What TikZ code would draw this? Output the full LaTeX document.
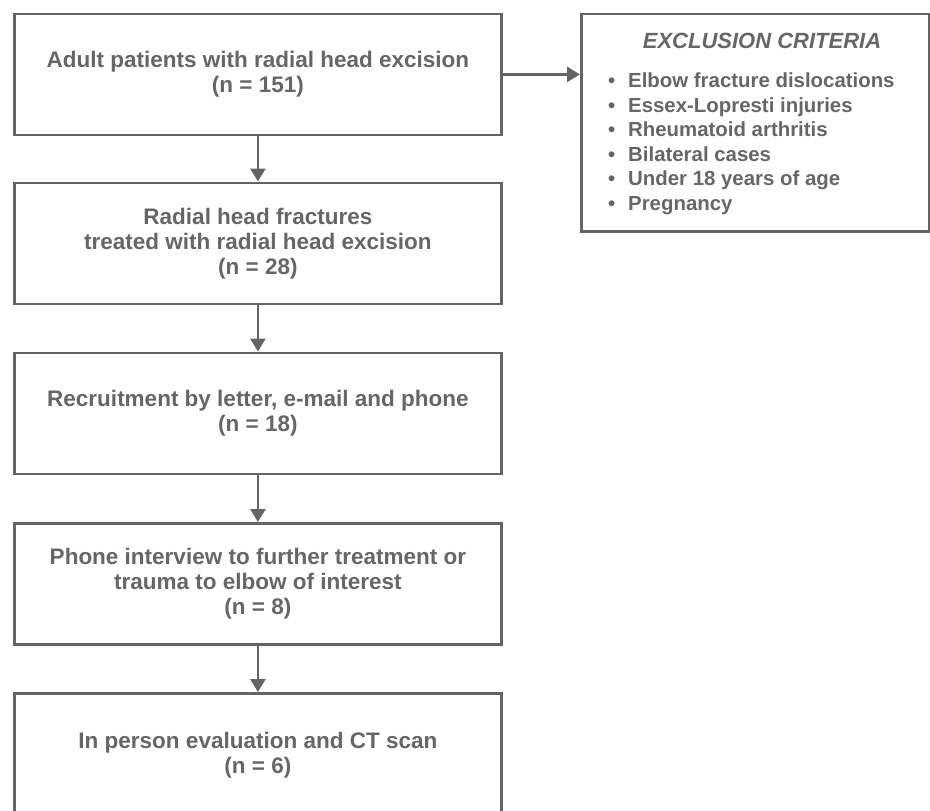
\documentclass[tikz,border=0pt]{standalone}
\usepackage{fontspec}
\setmainfont{Liberation Sans}
\usetikzlibrary{arrows.meta}
\definecolor{ink}{HTML}{666666}
\definecolor{edge}{HTML}{646464}
\begin{document}
\begin{tikzpicture}[x=1pt,y=-1pt,
  flowbox/.style={draw=edge, line width=2.8pt, minimum width=487pt, minimum height=121pt,
    inner sep=0pt, align=center, text=ink, font=\fontsize{22.5}{25}\selectfont\bfseries, anchor=north west},
  flowarrow/.style={draw=edge, line width=2.8pt, -{Triangle[width=15pt,length=13pt]}}]
\useasboundingbox (0,0) rectangle (930,811);
\clip (0,0) rectangle (930,811);
\node[flowbox] (b1) at (13,12.5) {Adult patients with radial head excision\\(n = 151)};
\node[flowbox] (b2) at (13,181.5) {Radial head fractures\\treated with radial head excision\\(n = 28)};
\node[flowbox] (b3) at (13,351.5) {Recruitment by letter, e-mail and phone\\(n = 18)};
\node[flowbox] (b4) at (13,522) {Phone interview to further treatment or\\trauma to elbow of interest\\(n = 8)};
\node[flowbox, minimum height=123pt] (b5) at (13,692) {In person evaluation and CT scan\\(n = 6)};
\node[draw=edge, line width=2.8pt, minimum width=348pt, minimum height=217.5pt, inner sep=0pt, anchor=north west] (excl) at (580,12.5) {};
\node[anchor=base, inner sep=0pt, text=ink, font=\fontsize{22}{26}\selectfont\bfseries\itshape] (exctitle) at (762,48) {EXCLUSION CRITERIA};
\node[anchor=north west, inner sep=0pt, align=left, text=ink, font=\fontsize{20.4}{24.6}\selectfont\bfseries] (exclist) at (608,72.5)
 {\makebox[20pt][l]{\textbullet}Elbow fracture dislocations\\
  \makebox[20pt][l]{\textbullet}Essex-Lopresti injuries\\
  \makebox[20pt][l]{\textbullet}Rheumatoid arthritis\\
  \makebox[20pt][l]{\textbullet}Bilateral cases\\
  \makebox[20pt][l]{\textbullet}Under 18 years of age\\
  \makebox[20pt][l]{\textbullet}Pregnancy};
\draw[flowarrow] (b1.south) -- (b2.north);
\draw[flowarrow] (b2.south) -- (b3.north);
\draw[flowarrow] (b3.south) -- (b4.north);
\draw[flowarrow] (b4.south) -- (b5.north);
\draw[flowarrow] (b1.east) -- (b1.east -| excl.west);
\end{tikzpicture}
\end{document}
